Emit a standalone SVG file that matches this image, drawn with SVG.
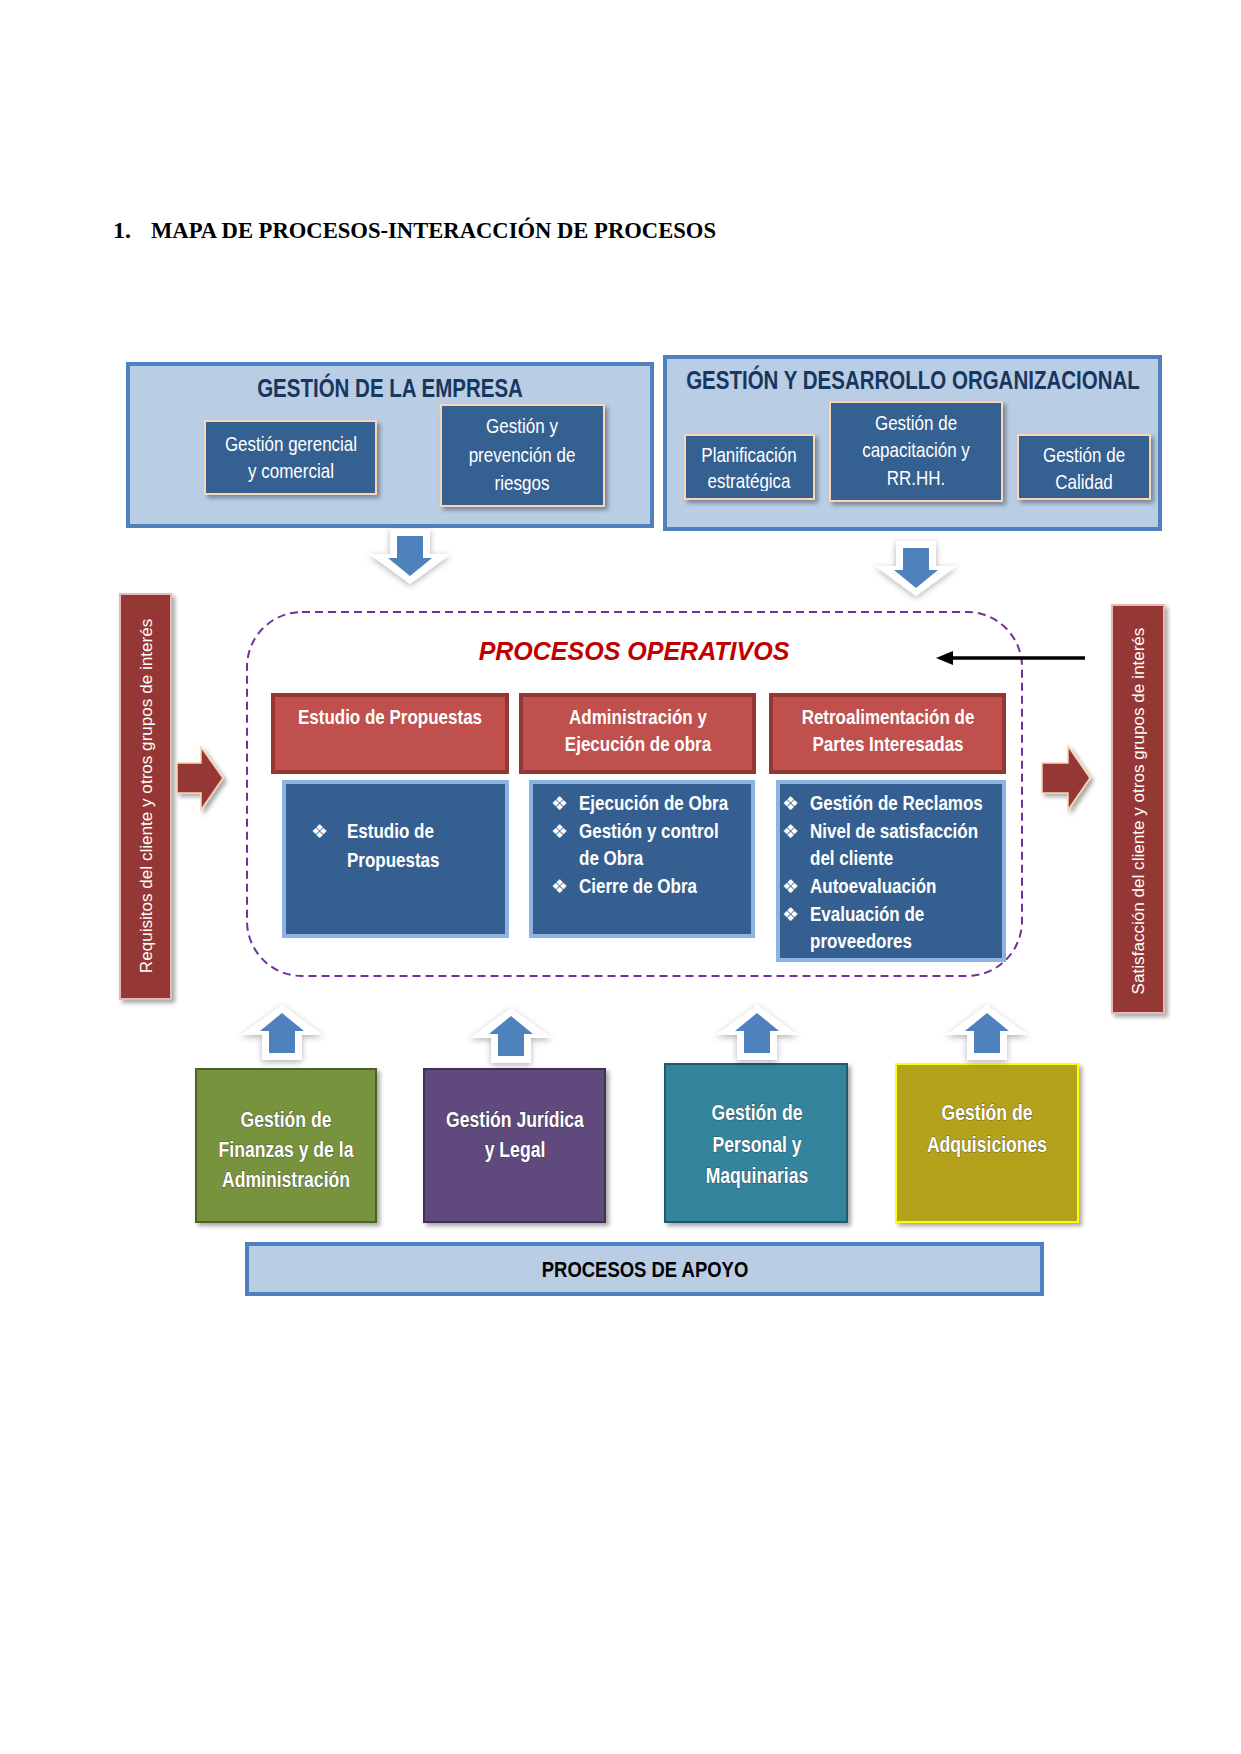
<svg xmlns="http://www.w3.org/2000/svg" width="1241" height="1754" viewBox="0 0 1241 1754">
<defs>
<style>
.n{font-family:"Liberation Sans",Arial,sans-serif;}
.reg{font-size:20px;fill:#fff;text-anchor:middle;}
.ttl{font-size:25px;font-weight:bold;fill:#17375e;text-anchor:middle;}
.hdr{font-size:20px;font-weight:bold;fill:#fff;text-anchor:middle;}
.it{font-size:20px;font-weight:bold;fill:#fff;}
.bul{font-family:"DejaVu Sans",sans-serif;font-size:19px;fill:#fff;}
.sup{font-size:22px;font-weight:bold;fill:#fff;text-anchor:middle;stroke:#2a2a2a;stroke-width:1.2px;stroke-opacity:0.5;paint-order:stroke;}
.outer{fill:#b9cde5;stroke:#4f81bd;stroke-width:4;}
.inbox{fill:#366092;stroke:#fcd5b4;stroke-width:2;}
.red{fill:#c0504d;stroke:#943634;stroke-width:4;}
.blue{fill:#365f91;stroke:#8db3e2;stroke-width:4;}
.side{fill:#953735;stroke:#e6b9b8;stroke-width:2;}
.sidetxt{font-family:"Liberation Sans",Arial,sans-serif;font-size:17.1px;fill:#fff;text-anchor:middle;}
.aw{fill:#ffffff;}
.ab{fill:#4f81bd;}
.ra{fill:#953735;stroke:#fbd4b4;stroke-width:1.5;}
</style>
<filter id="sh" x="-20%" y="-20%" width="140%" height="140%">
<feDropShadow dx="3" dy="3" stdDeviation="2" flood-color="#000" flood-opacity="0.35"/>
</filter>
<filter id="ash" x="-30%" y="-30%" width="160%" height="160%">
<feDropShadow dx="0" dy="2" stdDeviation="3" flood-color="#000" flood-opacity="0.3"/>
</filter>
<clipPath id="clipPlan"><rect x="685" y="435" width="129" height="56"/></clipPath>
</defs>
<rect x="0" y="0" width="1241" height="1754" fill="#ffffff"/>

<g id="title">
<text x="113" y="238" font-family="'Liberation Serif',serif" font-weight="bold" font-size="24" fill="#000">1.</text>
<text x="151" y="238" font-family="'Liberation Serif',serif" font-weight="bold" font-size="24" fill="#000" textLength="565" lengthAdjust="spacingAndGlyphs">MAPA DE PROCESOS-INTERACCIÓN DE PROCESOS</text>
</g>

<g id="gestion-empresa">
<rect class="outer" x="128" y="364" width="524" height="162"/>
<text class="n ttl" transform="translate(390,397) scale(0.82,1)">GESTIÓN DE LA EMPRESA</text>
</g>
<g id="gestion-gerencial">
<rect class="inbox" x="205" y="421" width="171" height="73" filter="url(#sh)"/>
<text class="n reg" transform="translate(291,451) scale(0.85,1)">Gestión gerencial</text>
<text class="n reg" transform="translate(291,478) scale(0.85,1)">y comercial</text>
</g>
<g id="gestion-riesgos">
<rect class="inbox" x="441" y="405" width="163" height="101" filter="url(#sh)"/>
<text class="n reg" transform="translate(522,433) scale(0.85,1)">Gestión y</text>
<text class="n reg" transform="translate(522,462) scale(0.85,1)">prevención de</text>
<text class="n reg" transform="translate(522,490) scale(0.85,1)">riesgos</text>
</g>

<g id="gestion-desarrollo">
<rect class="outer" x="665" y="357" width="495" height="172"/>
<text class="n ttl" transform="translate(913,389) scale(0.82,1)">GESTIÓN Y DESARROLLO ORGANIZACIONAL</text>
</g>
<g id="planificacion">
<rect class="inbox" x="685" y="435" width="129" height="64" filter="url(#sh)"/>
<g clip-path="url(#clipPlan)">
<text class="n reg" transform="translate(749,462) scale(0.85,1)">Planificación</text>
<text class="n reg" transform="translate(749,488) scale(0.85,1)">estratégica</text>
</g>
</g>
<g id="capacitacion">
<rect class="inbox" x="830" y="402" width="172" height="99" filter="url(#sh)"/>
<text class="n reg" transform="translate(916,430) scale(0.85,1)">Gestión de</text>
<text class="n reg" transform="translate(916,457) scale(0.85,1)">capacitación y</text>
<text class="n reg" transform="translate(916,485) scale(0.85,1)">RR.HH.</text>
</g>
<g id="calidad">
<rect class="inbox" x="1018" y="435" width="132" height="64" filter="url(#sh)"/>
<text class="n reg" transform="translate(1084,462) scale(0.85,1)">Gestión de</text>
<text class="n reg" transform="translate(1084,489) scale(0.85,1)">Calidad</text>
</g>

<g id="requisitos">
<rect class="side" x="120" y="594" width="51" height="405" filter="url(#sh)"/>
<text class="sidetxt" transform="translate(152,796) rotate(-90)">Requisitos del cliente y otros grupos de interés</text>
</g>
<g id="satisfaccion">
<rect class="side" x="1112" y="605" width="52" height="408" filter="url(#sh)"/>
<text class="sidetxt" transform="translate(1144,811) rotate(-90)">Satisfacción del cliente y otros grupos de interés</text>
</g>

<g id="procesos-operativos">
<rect x="247" y="612" width="775" height="364" rx="55" ry="55" fill="none" stroke="#7030a0" stroke-width="2" stroke-dasharray="8 5"/>
<text x="634" y="660" font-family="'Liberation Sans',Arial,sans-serif" font-size="25" font-weight="bold" font-style="italic" fill="#c00000" text-anchor="middle">PROCESOS OPERATIVOS</text>
</g>

<g id="estudio-header">
<rect class="red" x="273" y="695" width="234" height="77"/>
<text class="n hdr" transform="translate(390,724) scale(0.85,1)">Estudio de Propuestas</text>
</g>
<g id="administracion-header">
<rect class="red" x="521" y="695" width="233" height="77"/>
<text class="n hdr" transform="translate(638,724) scale(0.85,1)">Administración y</text>
<text class="n hdr" transform="translate(638,751) scale(0.85,1)">Ejecución de obra</text>
</g>
<g id="retro-header">
<rect class="red" x="771" y="695" width="233" height="77"/>
<text class="n hdr" transform="translate(888,724) scale(0.85,1)">Retroalimentación de</text>
<text class="n hdr" transform="translate(888,751) scale(0.85,1)">Partes Interesadas</text>
</g>

<g id="estudio-body">
<rect class="blue" x="284" y="782" width="223" height="154"/>
<text class="bul" x="311" y="838">❖</text>
<text class="n it" transform="translate(347,838) scale(0.85,1)">Estudio de</text>
<text class="n it" transform="translate(347,867) scale(0.85,1)">Propuestas</text>
</g>
<g id="administracion-body">
<rect class="blue" x="531" y="782" width="222" height="154"/>
<text class="bul" x="551" y="810">❖</text>
<text class="n it" transform="translate(579,810) scale(0.85,1)">Ejecución de Obra</text>
<text class="bul" x="551" y="838">❖</text>
<text class="n it" transform="translate(579,838) scale(0.85,1)">Gestión y control</text>
<text class="n it" transform="translate(579,865) scale(0.85,1)">de Obra</text>
<text class="bul" x="551" y="893">❖</text>
<text class="n it" transform="translate(579,893) scale(0.85,1)">Cierre de Obra</text>
</g>
<g id="retro-body">
<rect class="blue" x="778" y="782" width="226" height="178"/>
<text class="bul" x="782" y="810">❖</text>
<text class="n it" transform="translate(810,810) scale(0.85,1)">Gestión de Reclamos</text>
<text class="bul" x="782" y="838">❖</text>
<text class="n it" transform="translate(810,838) scale(0.85,1)">Nivel de satisfacción</text>
<text class="n it" transform="translate(810,865) scale(0.85,1)">del cliente</text>
<text class="bul" x="782" y="893">❖</text>
<text class="n it" transform="translate(810,893) scale(0.85,1)">Autoevaluación</text>
<text class="bul" x="782" y="921">❖</text>
<text class="n it" transform="translate(810,921) scale(0.85,1)">Evaluación de</text>
<text class="n it" transform="translate(810,948) scale(0.85,1)">proveedores</text>
</g>

<g id="finanzas">
<rect x="196" y="1069" width="180" height="153" fill="#77933c" stroke="#4f6228" stroke-width="2" filter="url(#sh)"/>
<text class="n sup" transform="translate(286,1127) scale(0.8,1)">Gestión de</text>
<text class="n sup" transform="translate(286,1157) scale(0.8,1)">Finanzas y de la</text>
<text class="n sup" transform="translate(286,1187) scale(0.8,1)">Administración</text>
</g>
<g id="juridica">
<rect x="424" y="1069" width="181" height="153" fill="#604a7b" stroke="#3f3151" stroke-width="2" filter="url(#sh)"/>
<text class="n sup" transform="translate(515,1127) scale(0.8,1)">Gestión Jurídica</text>
<text class="n sup" transform="translate(515,1157) scale(0.8,1)">y Legal</text>
</g>
<g id="personal">
<rect x="665" y="1064" width="182" height="158" fill="#31859c" stroke="#215867" stroke-width="2" filter="url(#sh)"/>
<text class="n sup" transform="translate(757,1120) scale(0.8,1)">Gestión de</text>
<text class="n sup" transform="translate(757,1152) scale(0.8,1)">Personal y</text>
<text class="n sup" transform="translate(757,1183) scale(0.8,1)">Maquinarias</text>
</g>
<g id="adquisiciones">
<rect x="896" y="1064" width="182" height="158" fill="#b4a21c" stroke="#ffff00" stroke-width="2" filter="url(#sh)"/>
<text class="n sup" transform="translate(987,1120) scale(0.8,1)">Gestión de</text>
<text class="n sup" transform="translate(987,1152) scale(0.8,1)">Adquisiciones</text>
</g>

<g id="procesos-apoyo">
<rect class="outer" x="247" y="1244" width="795" height="50"/>
<text class="n" transform="translate(645,1277) scale(0.84,1)" font-size="22" font-weight="bold" fill="#000" text-anchor="middle">PROCESOS DE APOYO</text>
</g>

<g id="connectors">
<g filter="url(#ash)">
<polygon class="aw" points="390,529 430,529 430,554 451,554 410,584 369,554 390,554"/>
<polygon class="aw" points="896,541 936,541 936,566 957,566 916,596 875,566 896,566"/>
<polygon class="aw" points="282,1005 323,1035 302,1035 302,1060 262,1060 262,1035 241,1035"/>
<polygon class="aw" points="511,1008 552,1038 531,1038 531,1063 491,1063 491,1038 470,1038"/>
<polygon class="aw" points="757,1005 798,1035 777,1035 777,1060 737,1060 737,1035 716,1035"/>
<polygon class="aw" points="987,1005 1028,1035 1007,1035 1007,1060 967,1060 967,1035 946,1035"/>
</g>
<polygon class="ab" points="397,536 423,536 423,558 432,558 410,576 388,558 397,558"/>
<polygon class="ab" points="903,548 929,548 929,570 938,570 916,588 894,570 903,570"/>
<polygon class="ab" points="282,1013 304,1031 295,1031 295,1053 269,1053 269,1031 260,1031"/>
<polygon class="ab" points="511,1016 533,1034 524,1034 524,1056 498,1056 498,1034 489,1034"/>
<polygon class="ab" points="757,1013 779,1031 770,1031 770,1053 744,1053 744,1031 735,1031"/>
<polygon class="ab" points="987,1013 1009,1031 1000,1031 1000,1053 974,1053 974,1031 965,1031"/>
<polygon class="ra" filter="url(#sh)" points="177,763 201,763 201,747 223,778 201,810 201,793 177,793"/>
<polygon class="ra" filter="url(#sh)" points="1042,763 1068,763 1068,746 1090,778 1068,810 1068,793 1042,793"/>
<line x1="1085" y1="658" x2="950" y2="658" stroke="#000" stroke-width="3.5"/>
<polygon points="936,658 953,651 953,665" fill="#000"/>
</g>
</svg>
